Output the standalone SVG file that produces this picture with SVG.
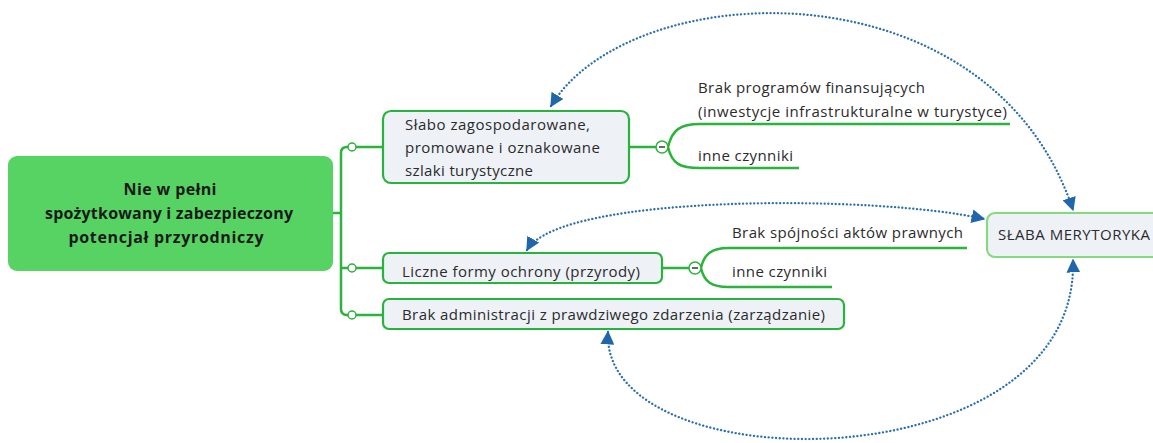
<svg xmlns="http://www.w3.org/2000/svg" width="1153" height="443" viewBox="0 0 1153 443">
<style>
.txt{font-family:"Open Sans","Liberation Sans",sans-serif;font-size:15px;fill:#2b2b2b}
.root{font-family:"Open Sans","Liberation Sans",sans-serif;font-size:16px;font-weight:bold;fill:#1a1a1a}
.node{fill:#eef2f7;stroke:#27b33c;stroke-width:2.2}
.br{fill:none;stroke:#2bb33c;stroke-width:2.5}
.knob{fill:#fff;stroke:#2bb33c;stroke-width:1.5}
.dot{fill:none;stroke:#2b6fb0;stroke-width:2.3;stroke-dasharray:0.1 3.6;stroke-linecap:round}
</style>
<defs>
<marker id="ah" viewBox="0 0 10 10" refX="9" refY="5" markerWidth="6" markerHeight="6" orient="auto-start-reverse" markerUnits="strokeWidth">
<path d="M0,0 L10,5 L0,10 z" fill="#1f66aa"/>
</marker>
</defs>
<rect width="1153" height="443" fill="#fff"/>
<g id="connectors">
<path class="br" d="M333,213 H341 M341,153 V309 M341,153 Q341,147 347,147 H383 M341,309 Q341,315 347,315 H383 M341,268 H383"/>
<circle class="knob" cx="352" cy="147" r="4"/>
<circle class="knob" cx="352" cy="268" r="4"/>
<circle class="knob" cx="352" cy="315" r="4"/>
<path class="br" d="M629,147 H656 M668,147 C672,130 680,124 700,124 H1010 M668,147 C672,164 680,168 700,168 H799"/>
<path class="br" d="M662,268 H689 M701,268 C704,254 712,248 728,248 H967 M701,268 C704,282 712,287 728,287 H832"/>
<g class="knob2">
<circle cx="662" cy="147" r="6" fill="#fff" stroke="#2bb33c" stroke-width="1.5"/>
<path d="M659,147 H665" stroke="#444" stroke-width="1.6"/>
<circle cx="695" cy="268" r="6" fill="#fff" stroke="#2bb33c" stroke-width="1.5"/>
<path d="M692,268 H698" stroke="#444" stroke-width="1.6"/>
</g>
<path class="dot" d="M551,106 C630,-25 990,-40 1073,210" marker-start="url(#ah)" marker-end="url(#ah)"/>
<path class="dot" d="M527,250 C560,193 880,195 984,219" marker-start="url(#ah)" marker-end="url(#ah)"/>
<path class="dot" d="M608,332 C600,485 1080,485 1073,260" marker-start="url(#ah)" marker-end="url(#ah)"/>
</g>
<g id="root">
<rect x="8" y="156" width="325" height="115" rx="9" fill="#57d364"/>
<text class="root" x="170" y="195" text-anchor="middle" textLength="93">Nie w pełni</text>
<text class="root" x="169" y="219" text-anchor="middle" textLength="248">spożytkowany i zabezpieczony</text>
<text class="root" x="166" y="243" text-anchor="middle" textLength="195">potencjał przyrodniczy</text>
</g>
<g id="node1">
<rect class="node" x="383" y="111" width="246" height="72" rx="8"/>
<text class="txt" x="405" y="130" textLength="185">Słabo zagospodarowane,</text>
<text class="txt" x="405" y="153" textLength="195">promowane i oznakowane</text>
<text class="txt" x="405" y="176" textLength="128">szlaki turystyczne</text>
</g>
<g id="node1a">
<text class="txt" x="698" y="93" textLength="227">Brak programów finansujących</text>
<text class="txt" x="698" y="117" textLength="309">(inwestycje infrastrukturalne w turystyce)</text>
</g>
<g id="node1b">
<text class="txt" x="698" y="161" textLength="95">inne czynniki</text>
</g>
<g id="node2">
<rect class="node" x="383" y="253" width="279" height="30" rx="6"/>
<text class="txt" x="402" y="277" textLength="238">Liczne formy ochrony (przyrody)</text>
</g>
<g id="node2a">
<text class="txt" x="732" y="238" textLength="231">Brak spójności aktów prawnych</text>
</g>
<g id="node2b">
<text class="txt" x="732" y="277" textLength="95">inne czynniki</text>
</g>
<g id="node3">
<rect class="node" x="383" y="299" width="461" height="30" rx="6"/>
<text class="txt" x="402" y="320" textLength="423">Brak administracji z prawdziwego zdarzenia (zarządzanie)</text>
</g>
<g id="node4">
<rect x="987" y="213" width="180" height="44" rx="8" fill="#eef2f7" stroke="#86d97f" stroke-width="2.2"/>
<text class="txt" x="998" y="240" textLength="152">SŁABA MERYTORYKA</text>
</g>
</svg>
